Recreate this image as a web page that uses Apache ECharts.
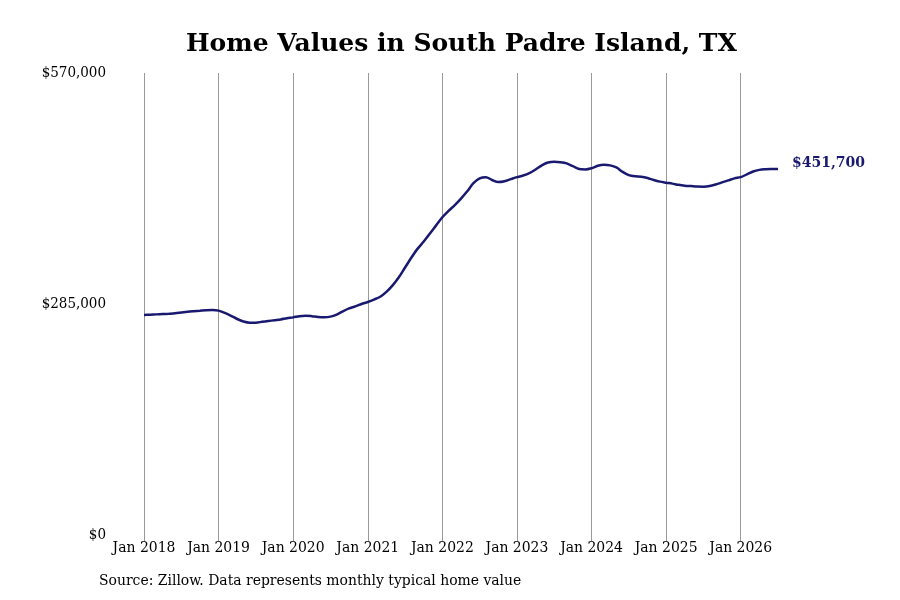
<!DOCTYPE html>
<html>
<head>
<meta charset="utf-8">
<title>Home Values in South Padre Island, TX</title>
<script src="https://cdn.jsdelivr.net/npm/echarts@6/dist/echarts.min.js"></script>
<style>
  html, body { margin: 0; padding: 0; background: #fff; }
  #chart { width: 900px; height: 600px; }
</style>
</head>
<body>
<div id="chart"></div>
<script>
// Monthly typical home value, Jan 2018 - Jul 2026 (thousands of dollars)
const startYear = 2018;
const values = [
    271.4, 271.8, 272.2, 272.6, 273.0, 273.5, 274.5, 275.5, 276.2, 276.8, 277.4, 277.6,
    276.8, 274.0, 270.5, 266.5, 263.5, 262.0, 262.0, 263.0, 264.0, 265.0, 266.0, 267.5,
    268.5, 270.0, 270.6, 270.0, 269.0, 268.6, 269.4, 272.0, 276.0, 279.5, 282.0, 285.0,
    287.5, 290.5, 294.0, 300.0, 308.0, 318.0, 330.0, 342.0, 353.0, 362.0, 372.0, 382.0,
    392.0, 400.0, 407.0, 415.0, 424.0, 434.0, 440.0, 441.5, 438.0, 435.5, 436.5, 439.0,
    441.5, 443.5, 446.5, 451.0, 456.0, 459.5, 460.6, 460.0, 458.5, 455.0, 451.5, 451.0,
    452.5, 455.5, 456.8, 456.0, 453.5, 448.0, 444.0, 442.5, 442.0, 440.5, 438.0, 436.0,
    434.7, 433.5, 432.0, 431.0, 430.5, 430.0, 429.8, 430.5, 432.5, 435.0, 437.5, 440.0,
    441.5, 445.0, 448.5, 450.5, 451.2, 451.5, 451.7
];
const yTicks = [0, 285000, 570000];
const monthNames = ['Jan', 'Feb', 'Mar', 'Apr', 'May', 'Jun', 'Jul', 'Aug', 'Sep', 'Oct', 'Nov', 'Dec'];

const categories = values.map(function (v, i) {
    return monthNames[i % 12] + ' ' + (startYear + Math.floor(i / 12));
});
const seriesData = values.map(function (v) { return Math.round(v * 1000); });

function money(v) {
    return '$' + v.toLocaleString('en-US');
}
function isJan(index) {
    return index % 12 === 0;
}

const lineColor = '#191970';
const labelFont = 'DejaVu Serif Condensed';

const chart = echarts.init(document.getElementById('chart'));
chart.setOption({
    animation: false,
    backgroundColor: '#fff',
    title: {
        text: 'Home Values in South Padre Island, TX',
        left: 181,
        top: 27,
        textStyle: {
            fontFamily: 'DejaVu Serif',
            fontWeight: 'bold',
            fontSize: 25,
            color: '#000'
        }
    },
    graphic: [{
        type: 'text',
        left: 99,
        top: 573,
        style: {
            text: 'Source: Zillow. Data represents monthly typical home value',
            fontFamily: labelFont,
            fontSize: 15.5,
            fill: '#000'
        }
    }],
    grid: {
        left: 144,
        right: 122,
        top: 73,
        bottom: 65
    },
    xAxis: {
        type: 'category',
        boundaryGap: false,
        data: categories,
        axisLine: { show: false },
        axisTick: {
            show: true,
            length: 6,
            interval: function (index) { return isJan(index); },
            lineStyle: { color: '#999' }
        },
        axisLabel: {
            interval: function (index) { return isJan(index); },
            fontFamily: labelFont,
            fontSize: 15.5,
            color: '#000',
            margin: 5
        },
        splitLine: {
            show: true,
            interval: function (index) { return isJan(index); },
            lineStyle: { color: '#999', width: 1 }
        }
    },
    yAxis: {
        type: 'value',
        min: yTicks[0],
        max: yTicks[yTicks.length - 1],
        interval: yTicks[1] - yTicks[0],
        axisLine: { show: false },
        axisTick: { show: false },
        splitLine: { show: false },
        axisLabel: {
            formatter: money,
            fontFamily: labelFont,
            fontSize: 15,
            color: '#000',
            margin: 38
        }
    },
    series: [{
        type: 'line',
        data: seriesData,
        smooth: 0.3,
        showSymbol: false,
        lineStyle: { color: lineColor, width: 2.5 },
        endLabel: {
            show: true,
            formatter: function (p) { return money(p.value); },
            fontFamily: 'DejaVu Serif',
            fontWeight: 'bold',
            fontSize: 14,
            color: lineColor,
            distance: 14,
            offset: [0, -6]
        }
    }]
});
</script>
</body>
</html>
